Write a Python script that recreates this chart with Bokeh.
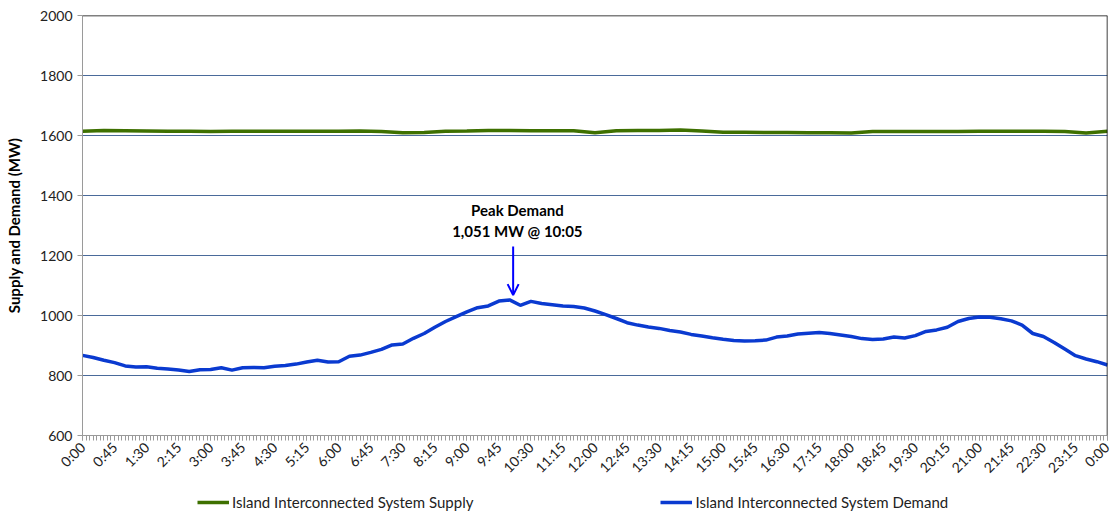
import math
from bokeh.plotting import figure
from bokeh.layouts import column
from bokeh.models import (Range1d, FixedTicker, Legend, LegendItem, Span, Arrow,
                          OpenHead, Label)
from bokeh.embed import file_html
from bokeh.resources import INLINE

# ---------------- data ----------------
# demand sampled every 15 minutes (minutes after midnight)
demand_times = list(range(0, 1441, 15))
demand_mw = [
    867, 860, 851, 843, 832, 828, 829, 824, 822, 818, 813, 819,   # 0:00-2:45
    820, 826, 818, 826, 827, 826, 831, 833, 838, 845, 851, 845,   # 3:00-5:45
    846, 864, 868, 877, 887, 902, 905, 924, 940, 961, 980, 996,   # 6:00-8:45
    1012, 1026, 1032, 1048, 1052, 1034, 1047, 1040, 1036, 1032, 1030, 1025,  # 9:00-11:45
    1015, 1003, 990, 976, 968, 962, 957, 950, 945, 937, 932, 926,  # 12:00-14:45
    921, 917, 915, 916, 918, 928, 932, 938, 941, 943, 940, 935,   # 15:00-17:45
    930, 923, 920, 922, 928, 925, 933, 947, 952, 961, 980, 990,   # 18:00-20:45
    995, 994, 989, 982, 968, 940, 930, 910, 888, 866, 855, 846,   # 21:00-23:45
    835,                                                          # 24:00
]

# supply sampled every 30 minutes
supply_times = list(range(0, 1441, 30))
supply_mw = [
    1614, 1617, 1616, 1615, 1614, 1614, 1613, 1614, 1614, 1614, 1614, 1614,
    1614, 1615, 1613, 1609, 1610, 1614, 1615, 1617, 1617, 1616, 1616, 1616,
    1609, 1616, 1617, 1617, 1618, 1615, 1611, 1611, 1610, 1610, 1609, 1609,
    1608, 1613, 1613, 1613, 1613, 1613, 1614, 1614, 1614, 1614, 1613, 1608,
    1614,
]

tick_labels = ["0:00", "0:45", "1:30", "2:15", "3:00", "3:45", "4:30", "5:15",
               "6:00", "6:45", "7:30", "8:15", "9:00", "9:45", "10:30", "11:15",
               "12:00", "12:45", "13:30", "14:15", "15:00", "15:45", "16:30",
               "17:15", "18:00", "18:45", "19:30", "20:15", "21:00", "21:45",
               "22:30", "23:15", "0:00"]
tick_step_min = 45
minor_step_min = 5
y_ticks = [600, 800, 1000, 1200, 1400, 1600, 1800, 2000]

peak_time = 605      # 10:05
peak_mw = 1051
peak_title = "Peak Demand"
peak_text = "1,051 MW @ 10:05"

series_names = ["Island Interconnected System Supply",
                "Island Interconnected System Demand"]
SUPPLY_COLOR = "#3E7000"
DEMAND_COLOR = "#0A3AD0"
FONT = "Lato"

# ---------------- main figure ----------------
p = figure(width=1112, height=484, output_backend="svg", toolbar_location=None,
           x_range=Range1d(0, 1440), y_range=Range1d(600, 2000),
           min_border_left=82, min_border_right=5, min_border_top=15, min_border_bottom=46,
           background_fill_color="white", border_fill_color="white")
p.outline_line_color = None

# grid
p.xgrid.visible = False
p.ygrid.ticker = FixedTicker(ticks=y_ticks)
p.ygrid.grid_line_color = "#4A6A9A"
p.ygrid.grid_line_width = 1

# y axis
p.yaxis.ticker = FixedTicker(ticks=y_ticks)
p.yaxis.axis_line_color = "#9A9A9A"
p.yaxis.major_tick_line_color = "#9A9A9A"
p.yaxis.major_tick_in = 0
p.yaxis.major_tick_out = 5
p.yaxis.minor_tick_line_color = None
p.yaxis.major_label_text_font = FONT
p.yaxis.major_label_text_font_size = "14px"
p.yaxis.major_label_text_color = "#222222"
p.yaxis.axis_label = "Supply and Demand (MW)"
p.yaxis.axis_label_text_font = FONT
p.yaxis.axis_label_text_font_size = "15px"
p.yaxis.axis_label_text_font_style = "bold"
p.yaxis.axis_label_text_color = "black"
p.yaxis.axis_label_standoff = 14

# x axis
major = [i * tick_step_min for i in range(len(tick_labels))]
p.xaxis.ticker = FixedTicker(ticks=major,
                             minor_ticks=list(range(0, 1441, minor_step_min)))
p.xaxis.major_label_overrides = {m: lbl for m, lbl in zip(major, tick_labels)}
p.xaxis.major_label_orientation = math.pi / 4
p.xaxis.axis_line_color = "#9A9A9A"
p.xaxis.major_tick_line_color = "#9A9A9A"
p.xaxis.minor_tick_line_color = "#9A9A9A"
p.xaxis.major_tick_in = 0
p.xaxis.major_tick_out = 5
p.xaxis.minor_tick_in = 0
p.xaxis.minor_tick_out = 5
p.xaxis.major_label_text_font = FONT
p.xaxis.major_label_text_font_size = "14px"
p.xaxis.major_label_text_color = "#222222"
p.xaxis.major_label_standoff = 4

# black top/right border
p.add_layout(Span(location=2000, dimension="width", line_color="black", line_width=1.5))
p.add_layout(Span(location=1440, dimension="height", line_color="black", line_width=1.5))

# series
r_s = p.line(supply_times, supply_mw, line_color=SUPPLY_COLOR, line_width=3.5)
r_d = p.line(demand_times, demand_mw, line_color=DEMAND_COLOR, line_width=3.5)

# annotation
p.add_layout(Arrow(end=OpenHead(size=11, line_color="#0000FF", line_width=2),
                   x_start=peak_time, y_start=1230, x_end=peak_time, y_end=1068,
                   line_color="#0000FF", line_width=2))
p.add_layout(Label(x=peak_time + 6, y=1351, text=peak_title, text_align="center",
                   text_baseline="middle", text_font=FONT, text_font_size="15px",
                   text_font_style="bold", text_color="black"))
p.add_layout(Label(x=peak_time + 6, y=1282, text=peak_text, text_align="center",
                   text_baseline="middle", text_font=FONT, text_font_size="15px",
                   text_font_style="bold", text_color="black"))

# ---------------- legend strip ----------------
# same series drawn again in a strip whose ranges hide them; used only for the legend keys
lg = figure(width=1112, height=30, output_backend="svg", toolbar_location=None,
            x_range=Range1d(0, 1), y_range=Range1d(0, 1),
            min_border_left=0, min_border_right=0, min_border_top=0, min_border_bottom=0,
            background_fill_color="white", border_fill_color="white")
lg.outline_line_color = None
lg.axis.visible = False
lg.grid.visible = False
k_s = lg.line(supply_times, supply_mw, line_color=SUPPLY_COLOR, line_width=3.5)
k_d = lg.line(demand_times, demand_mw, line_color=DEMAND_COLOR, line_width=3.5)
legend = Legend(items=[LegendItem(label=series_names[0], renderers=[k_s]),
                       LegendItem(label=series_names[1], renderers=[k_d])],
                orientation="horizontal", location=(115, 3), spacing=187,
                glyph_width=32, glyph_height=14, label_text_font=FONT,
                label_text_font_size="15px", label_text_color="#222222",
                label_standoff=3, border_line_color=None, background_fill_alpha=0,
                padding=0, margin=0)
lg.add_layout(legend, "center")

layout = column(p, lg, spacing=0)
open("out.html", "w").write(file_html(layout, INLINE))
